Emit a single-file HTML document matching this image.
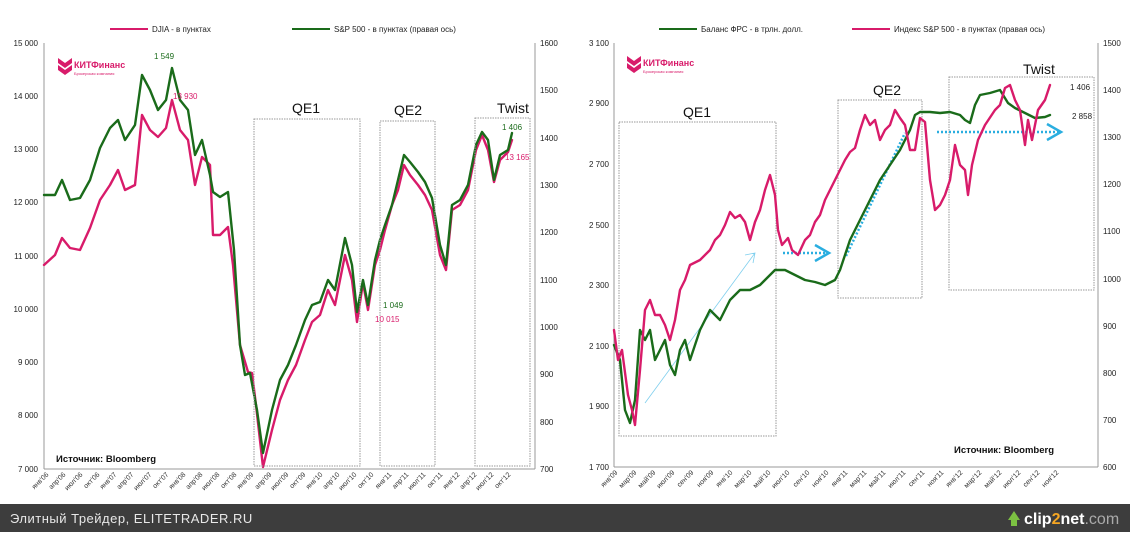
<!DOCTYPE html>
<html><head><meta charset="utf-8"><style>
body{margin:0;width:1130px;height:532px;overflow:hidden;background:#fff;font-family:"Liberation Sans","DejaVu Sans",sans-serif}
svg text{font-family:"Liberation Sans","DejaVu Sans",sans-serif}
.s{fill:none;stroke-width:2.4;stroke-linejoin:round;stroke-linecap:round}
</style></head><body>
<svg width="1130" height="532" viewBox="0 0 1130 532" xmlns="http://www.w3.org/2000/svg">
<rect width="1130" height="532" fill="#fff"/>
<!-- LEFT CHART -->
<g font-size="8" fill="#222">
<line x1="110" y1="29" x2="148" y2="29" stroke="#d81b6a" stroke-width="2"/>
<text x="152" y="32">DJIA - в пунктах</text>
<line x1="292" y1="29" x2="330" y2="29" stroke="#1a6b1a" stroke-width="2"/>
<text x="334" y="32">S&amp;P 500 - в пунктах (правая ось)</text>
<line x1="44" y1="43" x2="44" y2="469" stroke="#999"/>
<line x1="44" y1="469" x2="535" y2="469" stroke="#999"/>
<line x1="535" y1="43" x2="535" y2="469" stroke="#999"/>
<g text-anchor="end">
<text x="38" y="46">15 000</text><text x="38" y="99">14 000</text><text x="38" y="152">13 000</text><text x="38" y="205">12 000</text><text x="38" y="259">11 000</text><text x="38" y="312">10 000</text><text x="38" y="365">9 000</text><text x="38" y="418">8 000</text><text x="38" y="472">7 000</text>
</g>
<g>
<text x="540" y="46">1600</text><text x="540" y="93">1500</text><text x="540" y="141">1400</text><text x="540" y="188">1300</text><text x="540" y="235">1200</text><text x="540" y="283">1100</text><text x="540" y="330">1000</text><text x="540" y="377">900</text><text x="540" y="425">800</text><text x="540" y="472">700</text>
</g>
</g>
<path class="s" d="M44 265L55 255L62 238L70 248L80 250L90 228L100 200L110 185L118 170L125 190L135 185L142 115L150 130L158 137L166 128L172 100L180 130L188 140L195 185L202 157L210 165L213 235L220 235L228 227L233 265L240 345L248 372L252 373L256 405L263 467L272 430L280 400L288 380L296 365L305 340L312 322L320 315L328 290L335 305L345 255L352 280L357 322L363 283L368 310L375 265L380 250L385 230L392 205L398 190L404 165L410 175L418 185L425 195L432 210L440 255L446 270L452 210L460 205L468 190L476 150L482 135L488 150L494 182L500 160L508 152L512 140" stroke="#d81b6a"/>
<path class="s" d="M44 195L55 195L62 180L70 200L80 198L90 180L100 148L110 128L118 120L125 140L135 125L142 75L150 90L158 110L166 100L172 68L180 100L188 110L195 155L202 140L210 175L213 192L220 197L228 192L234 250L240 345L245 375L250 373L257 410L263 453L272 410L280 380L288 365L296 345L305 320L312 305L320 302L328 280L335 290L345 238L352 265L357 312L363 280L368 305L375 260L380 240L385 225L392 205L398 180L404 155L410 162L418 172L425 182L432 198L440 245L446 265L452 205L460 200L468 185L476 145L482 132L488 140L494 180L500 155L508 150L512 133" stroke="#1a6b1a"/>
<g fill="none" stroke="#999" stroke-dasharray="1.5,1">
<rect x="254" y="119" width="106" height="347"/>
<rect x="380" y="121" width="55" height="345"/>
<rect x="475" y="118" width="55" height="348"/>
</g>
<g font-size="14" fill="#111" text-anchor="middle">
<text x="306" y="113">QE1</text><text x="408" y="115">QE2</text><text x="513" y="113">Twist</text>
</g>
<g font-size="8">
<text x="154" y="59" fill="#1a6b1a">1 549</text>
<text x="173" y="99" fill="#d81b6a">13 930</text>
<text x="383" y="308" fill="#1a6b1a">1 049</text>
<text x="375" y="322" fill="#d81b6a">10 015</text>
<text x="502" y="130" fill="#1a6b1a">1 406</text>
<text x="505" y="160" fill="#d81b6a">13 165</text>
</g>
<text x="56" y="462" font-size="9.5" font-weight="bold" fill="#111">Источник: Bloomberg</text>
<g transform="translate(58,58)"><path d="M0 0L7 5L14 0L14 5L7 10L0 5Z M0 7L7 12L14 7L14 12L7 17L0 12Z" fill="#d81b6a"/><text x="16" y="10" font-size="9" font-weight="bold" fill="#d81b6a">КИТФинанс</text><text x="16" y="17" font-size="4" fill="#d81b6a">Брокерская компания</text></g>
<!-- RIGHT CHART -->
<g font-size="8" fill="#222">
<line x1="659" y1="29" x2="697" y2="29" stroke="#1a6b1a" stroke-width="2"/>
<text x="701" y="32">Баланс ФРС - в трлн. долл.</text>
<line x1="852" y1="29" x2="890" y2="29" stroke="#d81b6a" stroke-width="2"/>
<text x="894" y="32">Индекс S&amp;P 500 - в пунктах (правая ось)</text>
<line x1="614" y1="43" x2="614" y2="467" stroke="#999"/>
<line x1="614" y1="467" x2="1098" y2="467" stroke="#999"/>
<line x1="1098" y1="43" x2="1098" y2="467" stroke="#999"/>
<g text-anchor="end">
<text x="609" y="46">3 100</text><text x="609" y="106">2 900</text><text x="609" y="167">2 700</text><text x="609" y="228">2 500</text><text x="609" y="288">2 300</text><text x="609" y="349">2 100</text><text x="609" y="409">1 900</text><text x="609" y="470">1 700</text>
</g>
<g>
<text x="1103" y="46">1500</text><text x="1103" y="93">1400</text><text x="1103" y="140">1300</text><text x="1103" y="187">1200</text><text x="1103" y="234">1100</text><text x="1103" y="282">1000</text><text x="1103" y="329">900</text><text x="1103" y="376">800</text><text x="1103" y="423">700</text><text x="1103" y="470">600</text>
</g>
</g>
<g fill="none" stroke="#999" stroke-dasharray="1.5,1">
<rect x="619" y="122" width="157" height="314"/>
<rect x="838" y="100" width="84" height="198"/>
<rect x="949" y="77" width="145" height="213"/>
</g>
<g font-size="14" fill="#111" text-anchor="middle">
<text x="697" y="117">QE1</text><text x="887" y="95">QE2</text><text x="1039" y="74">Twist</text>
</g>
<g fill="none" stroke="#2aaee0">
<path d="M645 403L755 253M745 255L755 253L753 263" stroke-width="0.8" stroke="#7fcfee"/>
<path d="M783 253L828 253" stroke-width="2.5" stroke-dasharray="2,2"/>
<path d="M815 245L829 253L815 261" stroke-width="2.5"/>
<path d="M846 256L905 133" stroke-width="2.5" stroke-dasharray="2,2"/>
<path d="M937 132L1060 132" stroke-width="2.5" stroke-dasharray="2,2"/>
<path d="M1047 124L1061 132L1047 140" stroke-width="2.5"/>
</g>
<path class="s" d="M614 345L620 360L625 410L630 423L635 400L640 330L645 340L650 330L655 360L660 350L665 340L670 365L675 375L680 350L685 340L690 360L700 330L710 310L720 320L730 300L740 290L750 290L760 285L770 275L775 270L785 270L795 275L805 280L815 282L825 285L835 280L840 270L850 240L860 220L870 200L880 180L890 165L900 150L910 130L915 115L920 112L930 112L940 113L950 112L960 115L965 120L970 123L975 105L980 95L990 93L1000 90L1008 103L1015 108L1025 113L1035 118L1045 117L1050 115" stroke="#1a6b1a"/>
<path class="s" d="M614 330L618 360L622 350L628 395L632 410L635 425L640 370L645 310L650 300L655 315L660 315L665 325L670 340L675 320L680 290L685 280L690 265L700 260L710 250L715 240L720 235L725 225L730 212L735 218L740 215L745 222L750 240L755 222L760 210L765 190L770 175L775 195L778 230L782 245L788 238L792 250L798 255L805 240L810 235L815 222L820 215L825 200L830 190L835 180L840 170L845 160L850 152L855 148L860 130L865 115L870 125L875 120L880 140L885 130L890 125L895 110L900 118L905 125L910 150L915 150L920 118L925 122L930 180L935 210L940 205L945 195L950 180L955 145L960 165L965 170L968 195L972 165L978 140L985 125L995 110L1000 105L1005 88L1010 85L1015 100L1020 110L1025 145L1028 120L1032 140L1038 110L1045 100L1050 85" stroke="#d81b6a"/>
<g font-size="8" fill="#222"><text x="1070" y="90">1 406</text><text x="1072" y="119">2 858</text></g>
<text x="954" y="453" font-size="9.5" font-weight="bold" fill="#111">Источник: Bloomberg</text>
<g transform="translate(627,56)"><path d="M0 0L7 5L14 0L14 5L7 10L0 5Z M0 7L7 12L14 7L14 12L7 17L0 12Z" fill="#d81b6a"/><text x="16" y="10" font-size="9" font-weight="bold" fill="#d81b6a">КИТФинанс</text><text x="16" y="17" font-size="4" fill="#d81b6a">Брокерская компания</text></g>
<!-- x labels -->
<g font-size="7" fill="#333">
<g transform="translate(49,475) rotate(-45)"><text text-anchor="end">янв'06</text></g>
<g transform="translate(66,475) rotate(-45)"><text text-anchor="end">апр'06</text></g>
<g transform="translate(83,475) rotate(-45)"><text text-anchor="end">июл'06</text></g>
<g transform="translate(100,475) rotate(-45)"><text text-anchor="end">окт'06</text></g>
<g transform="translate(117,475) rotate(-45)"><text text-anchor="end">янв'07</text></g>
<g transform="translate(134,475) rotate(-45)"><text text-anchor="end">апр'07</text></g>
<g transform="translate(152,475) rotate(-45)"><text text-anchor="end">июл'07</text></g>
<g transform="translate(169,475) rotate(-45)"><text text-anchor="end">окт'07</text></g>
<g transform="translate(186,475) rotate(-45)"><text text-anchor="end">янв'08</text></g>
<g transform="translate(203,475) rotate(-45)"><text text-anchor="end">апр'08</text></g>
<g transform="translate(220,475) rotate(-45)"><text text-anchor="end">июл'08</text></g>
<g transform="translate(237,475) rotate(-45)"><text text-anchor="end">окт'08</text></g>
<g transform="translate(254,475) rotate(-45)"><text text-anchor="end">янв'09</text></g>
<g transform="translate(272,475) rotate(-45)"><text text-anchor="end">апр'09</text></g>
<g transform="translate(289,475) rotate(-45)"><text text-anchor="end">июл'09</text></g>
<g transform="translate(306,475) rotate(-45)"><text text-anchor="end">окт'09</text></g>
<g transform="translate(323,475) rotate(-45)"><text text-anchor="end">янв'10</text></g>
<g transform="translate(340,475) rotate(-45)"><text text-anchor="end">апр'10</text></g>
<g transform="translate(357,475) rotate(-45)"><text text-anchor="end">июл'10</text></g>
<g transform="translate(374,475) rotate(-45)"><text text-anchor="end">окт'10</text></g>
<g transform="translate(392,475) rotate(-45)"><text text-anchor="end">янв'11</text></g>
<g transform="translate(409,475) rotate(-45)"><text text-anchor="end">апр'11</text></g>
<g transform="translate(426,475) rotate(-45)"><text text-anchor="end">июл'11</text></g>
<g transform="translate(443,475) rotate(-45)"><text text-anchor="end">окт'11</text></g>
<g transform="translate(460,475) rotate(-45)"><text text-anchor="end">янв'12</text></g>
<g transform="translate(477,475) rotate(-45)"><text text-anchor="end">апр'12</text></g>
<g transform="translate(494,475) rotate(-45)"><text text-anchor="end">июл'12</text></g>
<g transform="translate(511,475) rotate(-45)"><text text-anchor="end">окт'12</text></g>

<g transform="translate(618,473) rotate(-45)"><text text-anchor="end">янв'09</text></g>
<g transform="translate(637,473) rotate(-45)"><text text-anchor="end">мар'09</text></g>
<g transform="translate(656,473) rotate(-45)"><text text-anchor="end">май'09</text></g>
<g transform="translate(675,473) rotate(-45)"><text text-anchor="end">июл'09</text></g>
<g transform="translate(694,473) rotate(-45)"><text text-anchor="end">сен'09</text></g>
<g transform="translate(714,473) rotate(-45)"><text text-anchor="end">ноя'09</text></g>
<g transform="translate(733,473) rotate(-45)"><text text-anchor="end">янв'10</text></g>
<g transform="translate(752,473) rotate(-45)"><text text-anchor="end">мар'10</text></g>
<g transform="translate(771,473) rotate(-45)"><text text-anchor="end">май'10</text></g>
<g transform="translate(790,473) rotate(-45)"><text text-anchor="end">июл'10</text></g>
<g transform="translate(810,473) rotate(-45)"><text text-anchor="end">сен'10</text></g>
<g transform="translate(829,473) rotate(-45)"><text text-anchor="end">ноя'10</text></g>
<g transform="translate(848,473) rotate(-45)"><text text-anchor="end">янв'11</text></g>
<g transform="translate(867,473) rotate(-45)"><text text-anchor="end">мар'11</text></g>
<g transform="translate(886,473) rotate(-45)"><text text-anchor="end">май'11</text></g>
<g transform="translate(906,473) rotate(-45)"><text text-anchor="end">июл'11</text></g>
<g transform="translate(925,473) rotate(-45)"><text text-anchor="end">сен'11</text></g>
<g transform="translate(944,473) rotate(-45)"><text text-anchor="end">ноя'11</text></g>
<g transform="translate(963,473) rotate(-45)"><text text-anchor="end">янв'12</text></g>
<g transform="translate(982,473) rotate(-45)"><text text-anchor="end">мар'12</text></g>
<g transform="translate(1002,473) rotate(-45)"><text text-anchor="end">май'12</text></g>
<g transform="translate(1021,473) rotate(-45)"><text text-anchor="end">июл'12</text></g>
<g transform="translate(1040,473) rotate(-45)"><text text-anchor="end">сен'12</text></g>
<g transform="translate(1059,473) rotate(-45)"><text text-anchor="end">ноя'12</text></g>
</g>
<!-- footer -->
<rect x="0" y="504" width="1130" height="28" fill="#3d3d3d"/>
<text x="10" y="523" font-size="13" fill="#e8e8e8" letter-spacing="0.5">Элитный Трейдер, ELITETRADER.RU</text>
<path d="M1008 520L1014 511L1020 520L1017 520L1017 526L1011 526L1011 520Z" fill="#7cc142"/>
<text x="1024" y="524" font-size="16" font-weight="bold" fill="#fff">clip<tspan fill="#f5a623">2</tspan>net<tspan fill="#aaa" font-weight="normal">.com</tspan></text>
</svg>
</body></html>
